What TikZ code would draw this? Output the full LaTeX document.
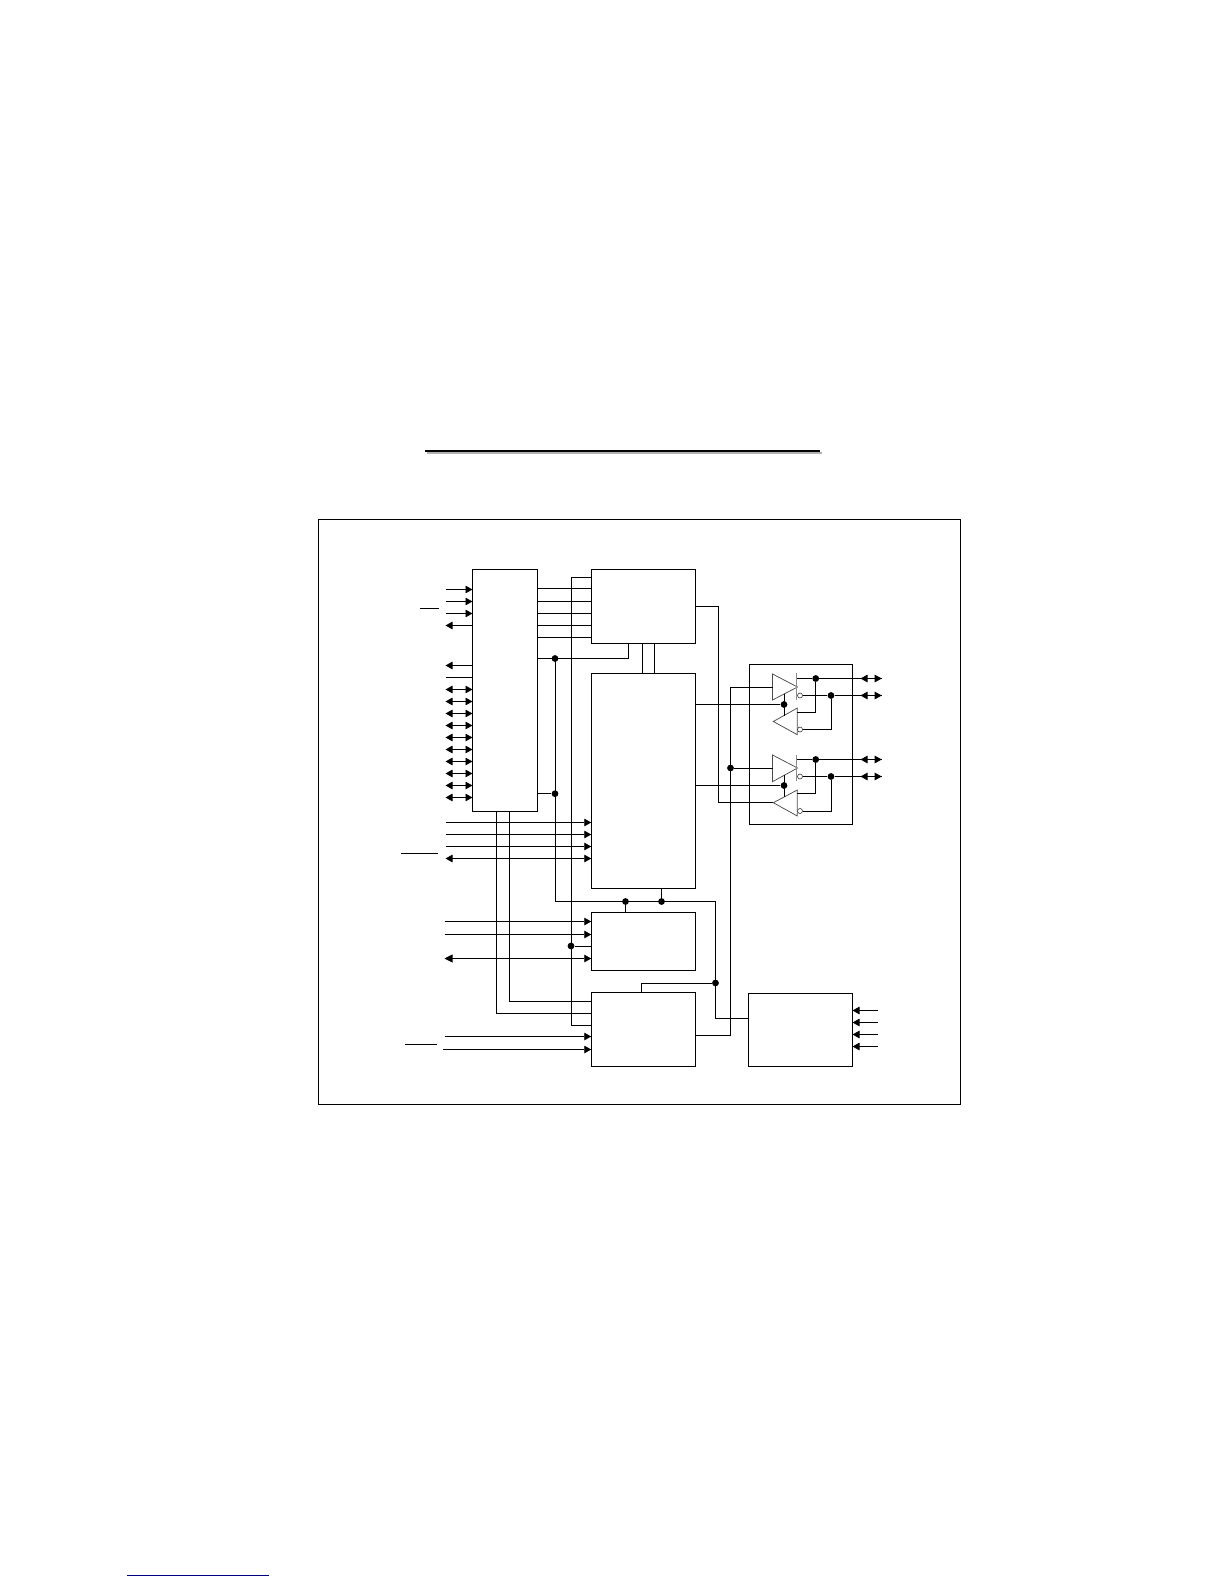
\documentclass[tikz,border=0pt]{standalone}
\usetikzlibrary{arrows.meta}
\definecolor{linknavy}{RGB}{0,0,128}
\tikzset{
  x=1pt,y=-1pt,
  blk/.style={draw=black,line width=0.95pt,rectangle,inner sep=0pt,outer sep=0pt,fill=none},
  wire/.style={draw=black,line width=0.95pt},
  intip/.style={wire,-{Triangle[length=7pt,width=7.5pt]}},
  outtip/.style={wire,{Triangle[length=7pt,width=7.5pt]}-},
  bothtip/.style={wire,{Triangle[length=7pt,width=7.5pt]}-{Triangle[length=7pt,width=7.5pt]}},
  bigbothtip/.style={wire,{Triangle[length=8pt,width=8pt]}-{Triangle[length=7pt,width=7.5pt]}},
  junct/.style={circle,fill=black,draw=none,inner sep=0pt,minimum size=6.8pt},
  bubble/.style={circle,fill=white,draw=black!80,line width=0.6pt,inner sep=0pt,minimum size=5pt},
  buf/.style={draw=black!70,line width=0.75pt},
  bar/.style={draw=black!45,line width=1.1pt},
}
\begin{document}
\begin{tikzpicture}
\useasboundingbox (0,0) rectangle (1224,1584);
% title rule and footer link rule
\coordinate (ruleA) at (425,451); \coordinate (ruleB) at (820,451);
\coordinate (shA) at (427,453); \coordinate (shB) at (822,453);
\draw[draw=black!30,line width=2pt] (shA) -- (shB);
\draw[draw=black,line width=2pt] (ruleA) -- (ruleB);
\coordinate (linkA) at (127,1575.3); \coordinate (linkB) at (269,1575.3);
\draw[draw=linknavy,line width=1pt] (linkA) -- (linkB);
% frame
\node[blk,minimum width=642pt,minimum height=585pt] (frame) at (639.5,811.5) {};
% blocks
\node[blk,minimum width=65pt,minimum height=242pt] (ctl) at (505,690.5) {};
\node[blk,minimum width=104.5pt,minimum height=74pt] (top) at (643.5,606.5) {};
\node[blk,minimum width=104.5pt,minimum height=215pt] (main) at (643.5,781) {};
\node[blk,minimum width=104.5pt,minimum height=58pt] (mid) at (643.5,941.5) {};
\node[blk,minimum width=104.5pt,minimum height=74pt] (low) at (643.5,1029.5) {};
\node[blk,minimum width=104pt,minimum height=73pt] (right) at (800.5,1030) {};
\node[blk,minimum width=103pt,minimum height=160pt] (bufbox) at (801,744.5) {};
% left pins of ctl
\foreach \y [count=\i] in {589.5,601.5,613.5}
  {\coordinate (li\i) at (445.5,\y); \draw[intip] (li\i) -- (ctl.west |- li\i);}
\coordinate (lo1) at (445.5,625.5); \draw[outtip] (lo1) -- (ctl.west |- lo1);
\coordinate (lo2) at (445.5,665.5); \draw[outtip] (lo2) -- (ctl.west |- lo2);
\coordinate (lp) at (445.5,677.5); \draw[wire] (lp) -- (ctl.west |- lp);
\foreach \y [count=\i] in {689.5,701.5,713.5,725.5,737.5,749.5,761.5,773.5,785.5,797.5}
  {\coordinate (lb\i) at (445.5,\y); \draw[bothtip] (lb\i) -- (ctl.west |- lb\i);}
\coordinate (ovA) at (419.5,608.5); \coordinate (ovB) at (439,608.5); \draw[wire] (ovA) -- (ovB);
% ctl to top
\foreach \y [count=\i] in {588.5,601.5,613.5,625.5,637.5}
  {\coordinate (ct\i) at (537.5,\y); \draw[wire] (ct\i) -- (top.west |- ct\i);}
% bus x=571.5
\coordinate (busT) at (571.5,577.5); \coordinate (busB) at (571.5,1025.5);
\draw[wire] (top.west |- busT) -- (busT) -- (busB) -- (low.west |- busB);
% x=555 line
\node[junct] (j1) at (555,658.5) {};
\node[junct] (j2) at (555,793.7) {};
\node[junct] (j3) at (625.5,901.5) {};
\node[junct] (j4) at (661.5,901.5) {};
\node[junct] (j5) at (715.5,983) {};
\coordinate (c1) at (555.3,901.5);
\coordinate (c2) at (715.5,901.5);
\coordinate (c3) at (715.5,1018.5);
\coordinate (c4) at (628.7,658.5);
\draw[wire] (ctl.east |- j1) -- (c4) -- (c4 |- top.south);
\draw[wire] (ctl.east |- j2) -- (j2);
\draw[wire] (c1 |- j1) -- (c1) -- (c2) -- (c3) -- (right.west |- c3);
\draw[wire] (j3) -- (j3 |- mid.north);
\draw[wire] (j4) -- (j4 |- main.south);
\coordinate (c5) at (641.5,983);
\draw[wire] (j5) -- (c5) -- (c5 |- low.north);
% top to main double
\coordinate (d1) at (642.5,660); \coordinate (d2) at (654.5,660);
\draw[wire] (d1 |- top.south) -- (d1 |- main.north);
\draw[wire] (d2 |- top.south) -- (d2 |- main.north);
% ctl down to low
\coordinate (e1) at (496.5,1013.5); \coordinate (e2) at (509.5,1001.5);
\draw[wire] (e1 |- ctl.south) -- (e1) -- (low.west |- e1);
\draw[wire] (e2 |- ctl.south) -- (e2) -- (low.west |- e2);
% main inputs
\foreach \y [count=\i] in {822.5,834.5,846.5}
  {\coordinate (mi\i) at (445.5,\y); \draw[intip] (mi\i) -- (main.west |- mi\i);}
\coordinate (mb) at (445.5,858.5); \draw[bothtip] (mb) -- (main.west |- mb);
\coordinate (ovC) at (401,853); \coordinate (ovD) at (437.5,853); \draw[wire] (ovC) -- (ovD);
% mid inputs
\foreach \y [count=\i] in {921.5,934.5}
  {\coordinate (di\i) at (444.5,\y); \draw[intip] (di\i) -- (mid.west |- di\i);}
\coordinate (db) at (444.5,958.5); \draw[bigbothtip] (db) -- (mid.west |- db);
\node[junct] (j6) at (571,946) {};
\draw[wire] (j6) -- (mid.west |- j6);
% low inputs
\coordinate (wi1) at (444.5,1036.5); \draw[intip] (wi1) -- (low.west |- wi1);
\coordinate (wi2) at (443,1049.5); \draw[intip] (wi2) -- (low.west |- wi2);
\coordinate (ovE) at (405,1044.5); \coordinate (ovF) at (437,1044.5); \draw[wire] (ovE) -- (ovF);
% right block inputs
\foreach \y [count=\i] in {1010.5,1022.5,1034.5,1046.5}
  {\coordinate (ri\i) at (878,\y); \draw[intip] (ri\i) -- (right.east |- ri\i);}
% buffers
\coordinate (t1a) at (772.5,674); \coordinate (t1b) at (772.5,700); \coordinate (t1t) at (797.5,687);
\coordinate (t2a) at (797.3,708); \coordinate (t2b) at (797.3,734.7); \coordinate (t2t) at (773.3,721.5);
\coordinate (t3a) at (772.5,755); \coordinate (t3b) at (772.5,781.7); \coordinate (t3t) at (797.5,768);
\coordinate (t4a) at (797.3,790); \coordinate (t4b) at (797.3,816); \coordinate (t4t) at (773.3,802.7);
\draw[buf] (t1a) -- (t1t) -- (t1b) -- cycle;
\draw[buf] (t2a) -- (t2t) -- (t2b) -- cycle;
\draw[buf] (t3a) -- (t3t) -- (t3b) -- cycle;
\draw[buf] (t4a) -- (t4t) -- (t4b) -- cycle;
\coordinate (b1a) at (796.8,673); \coordinate (b1b) at (796.8,700);
\coordinate (b3a) at (796.8,755); \coordinate (b3b) at (796.8,781);
\draw[bar] (b1a) -- (b1b); \draw[bar] (b3a) -- (b3b);
\draw[bar] (t2a) -- (t2b); \draw[bar] (t4a) -- (t4b);
% enables from main
\node[junct] (en1) at (784,704.5) {};
\node[junct] (en2) at (784,785.5) {};
\coordinate (en1u) at (784,694); \coordinate (en1d) at (784,715.5);
\coordinate (en2u) at (784,775); \coordinate (en2d) at (784,796.5);
\draw[wire] (main.east |- en1) -- (en1);
\draw[wire] (main.east |- en2) -- (en2);
\draw[wire] (en1u) -- (en1d);
\draw[wire] (en2u) -- (en2d);
% top block line to lower receiver
\coordinate (f1) at (718.5,606.5); \coordinate (f2) at (718.5,802.7);
\draw[wire] (top.east |- f1) -- (f1) -- (f2) -- (t4t);
% low block to drivers
\coordinate (g1) at (730.5,1035.5); \coordinate (g2) at (730.5,687.5);
\node[junct] (j7) at (730.5,768) {};
\draw[wire] (low.east |- g1) -- (g1) -- (g2) -- (t1a |- g2);
\draw[wire] (j7) -- (t3a |- j7);
% outputs
\node[junct] (o1) at (815.7,678.5) {};
\node[junct] (o2) at (831,695.5) {};
\node[junct] (o3) at (815.7,759.5) {};
\node[junct] (o4) at (831,776.5) {};
\node[bubble] (bu1) at (800,695.5) {};
\node[bubble] (bu2) at (800,729.5) {};
\node[bubble] (bu3) at (800,776.5) {};
\node[bubble] (bu4) at (800,811) {};
\coordinate (s1) at (797,678.5); \coordinate (s3) at (797,759.5);
\draw[wire] (s1) -- (o1);
\draw[wire] (s3) -- (o3);
\draw[wire] (bu1) -- (o2);
\draw[wire] (bu3) -- (o4);
\coordinate (r1) at (881.7,678.5); \coordinate (r2) at (881.7,695.5);
\coordinate (r3) at (881.7,759.5); \coordinate (r4) at (881.7,776.5);
\coordinate (m1) at (860.5,678.5); \coordinate (m2) at (860.5,695.5);
\coordinate (m3) at (860.5,759.5); \coordinate (m4) at (860.5,776.5);
\draw[wire] (o1) -- (r1); \draw[wire] (o2) -- (r2);
\draw[wire] (o3) -- (r3); \draw[wire] (o4) -- (r4);
\foreach \n in {1,2,3,4}{
  \draw[bothtip] (m\n) -- (r\n);
}
% receiver feedback
\coordinate (h1) at (797.3,712.5); \coordinate (h2) at (815.7,712.5);
\coordinate (h3) at (797.3,793.5); \coordinate (h4) at (815.7,793.5);
\coordinate (h5) at (831,729.5); \coordinate (h6) at (831,811);
\draw[wire] (h1) -- (h2) -- (o1);
\draw[wire] (h3) -- (h4) -- (o3);
\draw[wire] (bu2) -- (h5) -- (o2);
\draw[wire] (bu4) -- (h6) -- (o4);
\end{tikzpicture}
\end{document}
